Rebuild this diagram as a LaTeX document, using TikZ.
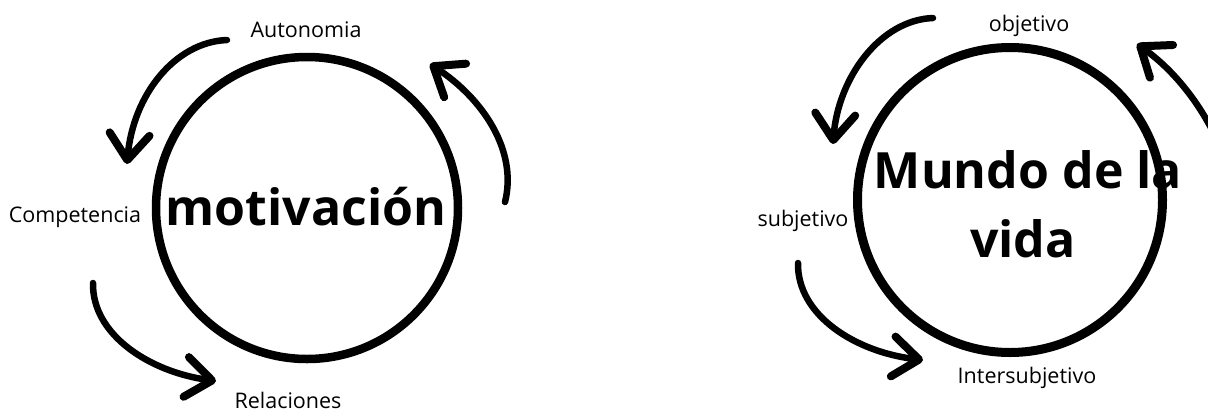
\documentclass[tikz,border=0pt]{standalone}
\usepackage{fontspec}
\setmainfont{Open Sans}
\usetikzlibrary{arrows.meta}
\begin{document}
\begin{tikzpicture}[x=1pt,y=-1pt,
  ring/.style={circle, draw=black, inner sep=0pt, outer sep=0pt},
  flow/.style={line width=6.5pt, line cap=round,
    -{Straight Barb[length=26pt,width=40pt,line width=8pt,round]}},
  lbl/.style={font=\fontsize{21.5}{25}\selectfont, anchor=base, inner sep=0pt},
  big/.style={font=\fontsize{50}{60}\selectfont\bfseries, anchor=base, inner sep=0pt}]
\useasboundingbox (0,0) rectangle (1208,413);
\clip (0,0) rectangle (1208,413);

% ---- left cycle: motivación ----
\node[ring, line width=8.5pt, minimum size=302pt] (c1) at (307,208) {};
\node[big] (m1) at (306,225) {motivación};
\node[lbl] (autonomia) at (306,37) {Autonomia};
\node[lbl] (competencia) at (75,222) {Competencia};
\node[lbl] (relaciones) at (288,408) {Relaciones};

\coordinate (a1s) at (227,40);  \coordinate (a1e) at (127,164);
\coordinate (a2s) at (93,283);  \coordinate (a2e) at (216,381);
\coordinate (a3s) at (505,202); \coordinate (a3e) at (430,64);
\draw[flow] (a1s) .. controls (175,42) and (133,95) .. (a1e);
\draw[flow] (a2s) .. controls (92,335) and (150,372) .. (a2e);
\draw[flow] (a3s) .. controls (518,150) and (482,98) .. (a3e);

% ---- right cycle: Mundo de la vida ----
\node[ring, line width=9pt, minimum size=305pt] (c2) at (1010,200) {};
\node[big] (m2a) at (1028,188) {Mundo de la};
\node[big] (m2b) at (1023,257) {vida};
\node[lbl] (objetivo) at (1029,31) {objetivo};
\node[lbl] (subjetivo) at (803,226) {subjetivo};
\node[lbl] (intersub) at (1027,383) {Intersubjetivo};

\coordinate (b1s) at (933,18);   \coordinate (b1e) at (833,144);
\coordinate (b2s) at (798,263);  \coordinate (b2e) at (923,360);
\coordinate (b3s) at (1240,240); \coordinate (b3e) at (1137,44);
\draw[flow] (b1s) .. controls (880,20) and (838,78) .. (b1e);
\draw[flow] (b2s) .. controls (797,315) and (855,352) .. (b2e);
\draw[flow] (b3s) .. controls (1240,160) and (1195,85) .. (b3e);
\end{tikzpicture}
\end{document}
